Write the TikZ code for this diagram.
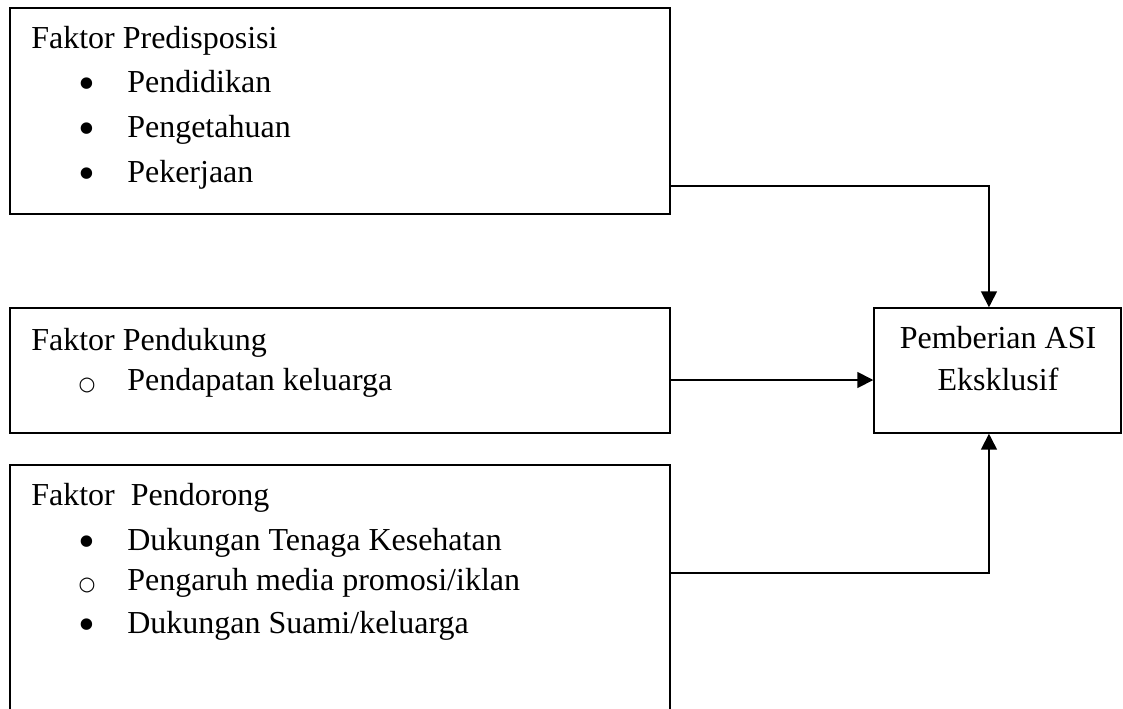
\documentclass[tikz,border=0pt]{standalone}
\usepackage{fontspec}
\setmainfont{Liberation Serif}
\newfontfamily\symfnt{DejaVu Sans}
\usetikzlibrary{fit,arrows.meta}
\tikzset{
  box/.style={draw, line width=1.1pt, inner sep=0pt},
  txt/.style={anchor=base west, inner sep=0pt, font=\fontsize{24}{28}\selectfont},
  ctxt/.style={anchor=base, inner sep=0pt, font=\fontsize{24}{28}\selectfont},
  bul/.style={anchor=center, inner sep=0pt, font=\fontsize{36}{36}\selectfont},
  obul/.style={anchor=center, inner sep=0pt, font=\symfnt\fontsize{14.5}{16}\selectfont},
  arr/.style={line width=1.3pt, -{Triangle[length=12pt,width=12pt]}}
}
\begin{document}
\begin{tikzpicture}[x=0.75pt,y=-0.75pt]
\useasboundingbox (0,0) rectangle (1123,708);
% boxes
\node[box, fit={(10,8) (670,214)}] (b1) {};
\node[box, fit={(10,308) (670,433)}] (b2) {};
\node[box, fit={(10,465) (670,716)}] (b3) {};
\node[box, fit={(874,308) (1121,433)}] (goal) {};
% box 1 text
\node[txt] (t1) at (31,48) {Faktor Predisposisi};
\node[bul] (t1b1) at (87,89) {•};
\node[txt] (t1i1) at (127,92) {Pendidikan};
\node[bul] (t1b2) at (87,134) {•};
\node[txt] (t1i2) at (127,137) {Pengetahuan};
\node[bul] (t1b3) at (87,179) {•};
\node[txt] (t1i3) at (127,182) {Pekerjaan};
% box 2 text
\node[txt] (t2) at (31,350) {Faktor Pendukung};
\node[obul] (t2b1) at (87,385) {○};
\node[txt] (t2i1) at (127,390) {Pendapatan keluarga};
% box 3 text
\node[txt] (t3) at (31,505) {Faktor\ \ Pendorong};
\node[bul] (t3b1) at (87,547) {•};
\node[txt] (t3i1) at (127,550) {Dukungan Tenaga Kesehatan};
\node[obul] (t3b2) at (87,585) {○};
\node[txt] (t3i2) at (127,590) {Pengaruh media promosi/iklan};
\node[bul] (t3b3) at (87,630) {•};
\node[txt] (t3i3) at (127,633) {Dukungan Suami/keluarga};
% goal text
\node[ctxt] (g1) at (998,348) {Pemberian ASI};
\node[ctxt] (g2) at (998,390) {Eksklusif};
% connectors
\draw[arr] (b1.east |- 0,186) -| ([xshift=-6.4pt]goal.north);
\draw[arr] (b2.east |- 0,380) -- (goal.west |- 0,380);
\draw[arr] (b3.east |- 0,573) -| ([xshift=-6.4pt]goal.south);
\end{tikzpicture}
\end{document}
